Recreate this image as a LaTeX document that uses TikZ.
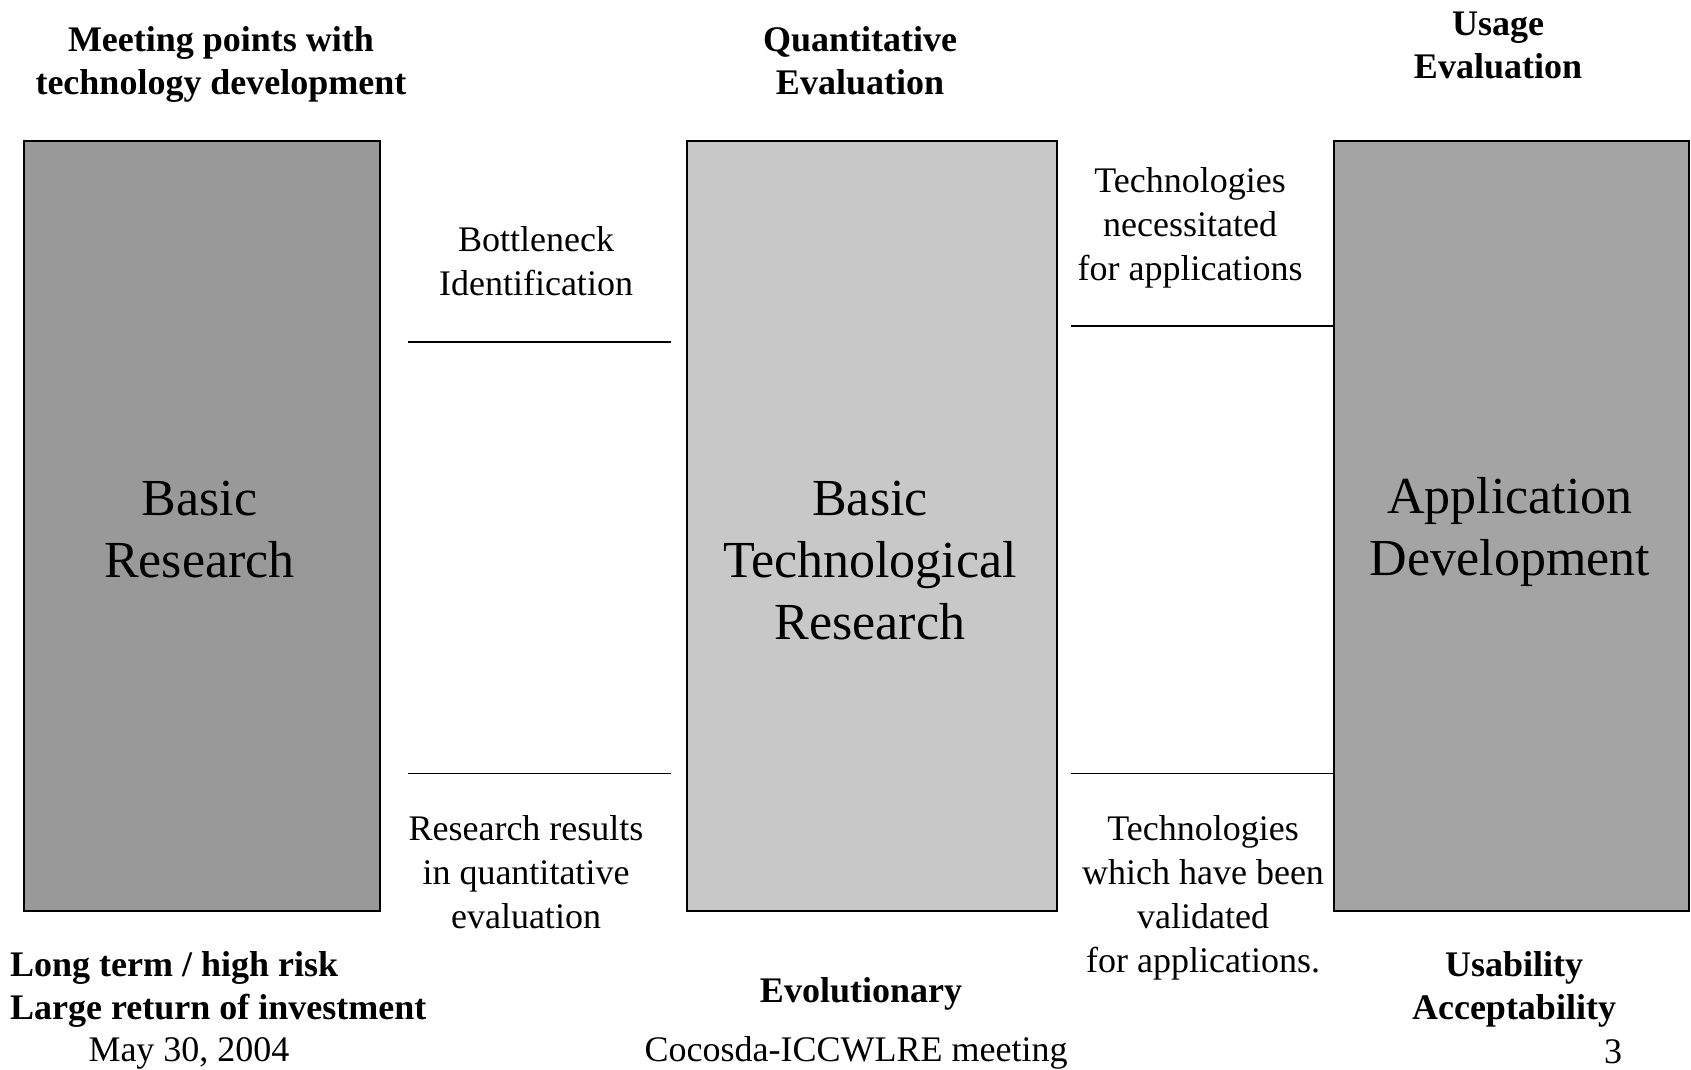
\documentclass[tikz,border=0pt]{standalone}
\usepackage{fontspec}
\setmainfont{Liberation Serif}
\usepackage{tikz}
\definecolor{darkbox}{gray}{0.6}
\definecolor{lightbox}{gray}{0.785}
\definecolor{midbox}{gray}{0.645}

\begin{document}
\begin{tikzpicture}[x=0.5pt,y=-0.5pt,
		stage/.style={draw=black,line width=1pt,minimum height=385pt,inner sep=0pt},
		note/.style={align=center,font=\fontsize{18}{22}\selectfont,inner sep=0pt},
		heading/.style={note,font=\fontsize{18}{21.5}\selectfont\bfseries},
		bigtext/.style={align=center,font=\fontsize{26}{31}\selectfont,inner sep=0pt},
		link/.style={line width=0.8pt}]
			\useasboundingbox (0,0) rectangle (1691,1070);
			% the three stages
			\node[stage,fill=darkbox,minimum width=178pt] (basic) at (201.6,526.3) {};
			\node[stage,fill=lightbox,minimum width=185pt] (tech) at (872,526.3) {};
			\node[stage,fill=midbox,minimum width=177.5pt] (appl) at (1511.5,526.3) {};
			\node[bigtext] (basictxt) at (199.5,530) {Basic\\Research};
			\node[bigtext] (techtxt) at (870,561) {Basic\\Technological\\Research};
			\node[bigtext] (appltxt) at (1510,532) {Application\\Development};
			% headings
			\node[heading] (meet) at (221,64) {Meeting points with\\technology development};
			\node[heading] (quant) at (860,61) {Quantitative\\Evaluation};
			\node[heading] (usage) at (1498,45) {Usage\\Evaluation};
			% links between the stages
			\coordinate (bl1) at (408,341.9);
			\coordinate (bl2) at (408,773.3);
			\coordinate (tl1) at (tech.west |- bl1);
			\coordinate (tl2) at (tech.west |- bl2);
			\coordinate (tr1) at (1070.7,325.7);
			\coordinate (tr2) at (1070.7,773.3);
			\draw[link] (bl1) -- ([xshift=-7.5pt]tl1);
			\draw[link] (bl2) -- ([xshift=-7.5pt]tl2);
			\draw[link] (tr1) -- (appl.west |- tr1);
			\draw[link] (tr2) -- (appl.west |- tr2);
			\node[note] (bottle) at (536,261) {Bottleneck\\Identification};
			\node[note] (needed) at (1190,228) {Technologies\\necessitated\\for applications};
			\node[note] (results) at (526,872) {Research results\\in quantitative\\evaluation};
			\node[note] (valid) at (1203,898) {Technologies\\which have been\\validated\\for applications.};
			% bottom remarks
			\node[heading,align=left,anchor=west] (risk) at (9.7,989) {Long term / high risk\\Large return of investment};
			\node[heading] (evol) at (861,994) {Evolutionary};
			\node[heading] (usab) at (1514,989) {Usability\\Acceptability};
			% footer
			\node[note] (date) at (189,1053) {May 30, 2004};
			\node[note] (meeting) at (856,1053) {Cocosda-ICCWLRE meeting};
			\node[note] (page) at (1613,1052) {3};
		\end{tikzpicture}
\end{document}
